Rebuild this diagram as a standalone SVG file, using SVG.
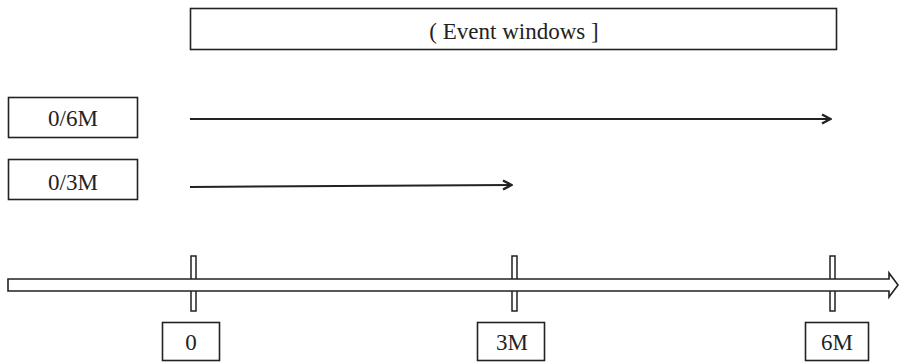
<svg xmlns="http://www.w3.org/2000/svg" width="901" height="362" viewBox="0 0 901 362">
  <style>
    .box { fill: #fff; stroke: #222; stroke-width: 1.6; }
    .lbl { font-family: 'Liberation Serif', 'Times New Roman', serif; font-size: 23px; fill: #222; text-anchor: middle; }
    .arr { stroke: #222; stroke-width: 2; fill: none; marker-end: url(#head); }
    .tick { fill: #fff; stroke: #222; stroke-width: 1.5; }
  </style>
  <defs>
    <marker id="head" viewBox="0 0 12 12" refX="11" refY="6" markerWidth="12" markerHeight="12" markerUnits="userSpaceOnUse" orient="auto">
      <path d="M2,1.5 L10.5,6 L2,10.5" fill="none" stroke="#222" stroke-width="2.4"/>
    </marker>
  </defs>

  <g id="event-windows">
    <rect class="box" x="190.5" y="8.5" width="646" height="41"/>
    <text class="lbl" x="514" y="39">( Event windows ]</text>
  </g>

  <g id="win-6m">
    <rect class="box" x="8.5" y="97.5" width="129" height="40"/>
    <text class="lbl" x="73" y="126">0/6M</text>
  </g>

  <g id="win-3m">
    <rect class="box" x="8.5" y="159.5" width="129" height="40"/>
    <text class="lbl" x="73" y="190">0/3M</text>
  </g>

  <g id="timeline">
    <rect class="tick" x="191" y="256" width="5" height="55"/>
    <rect class="tick" x="512" y="256" width="5" height="55"/>
    <rect class="tick" x="830" y="256" width="5" height="55"/>
    <path d="M8,279 L889,279 L889,273 L898,285 L889,297 L889,291 L8,291 Z" fill="#fff" stroke="#222" stroke-width="1.6"/>
  </g>

  <g id="tick-0">
    <rect class="box" x="162.5" y="322.5" width="57" height="38"/>
    <text class="lbl" x="191" y="350">0</text>
  </g>
  <g id="tick-3m">
    <rect class="box" x="477.5" y="322.5" width="67" height="38"/>
    <text class="lbl" x="512" y="350">3M</text>
  </g>
  <g id="tick-6m">
    <rect class="box" x="805.5" y="322.5" width="63" height="38"/>
    <text class="lbl" x="837" y="350">6M</text>
  </g>

  <g id="connectors">
    <line class="arr" x1="190" y1="119" x2="831" y2="119"/>
    <line class="arr" x1="190" y1="187" x2="512" y2="185"/>
  </g>
</svg>
